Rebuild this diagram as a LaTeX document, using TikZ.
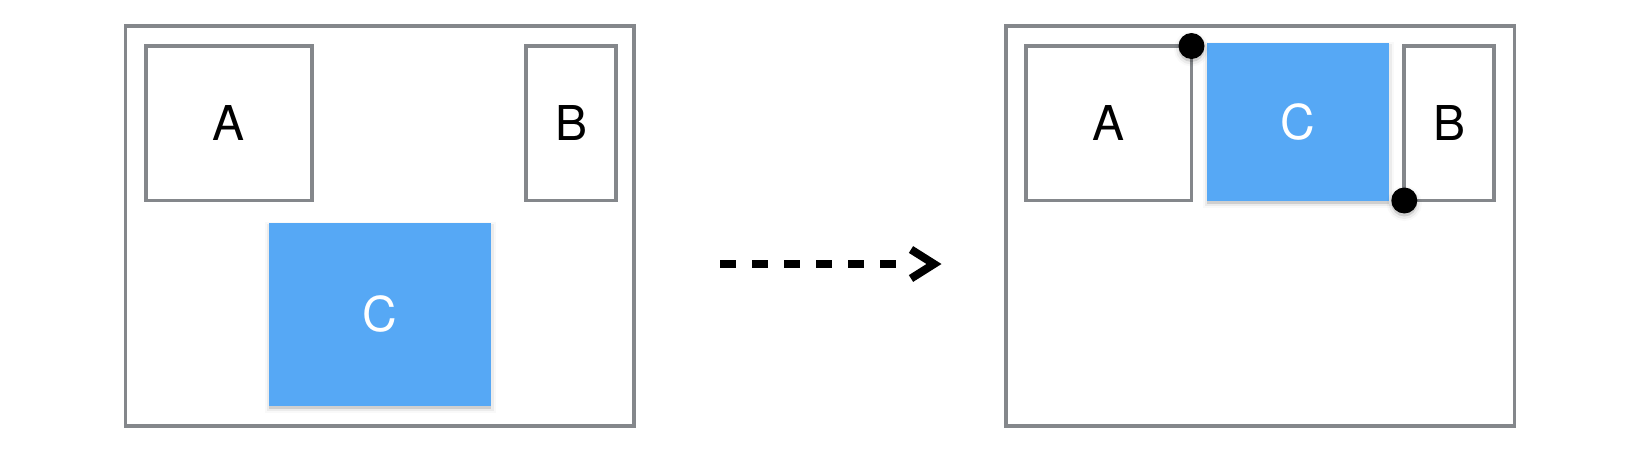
\documentclass[tikz,border=0pt]{standalone}
\usepackage{fontspec}
\setmainfont{TeX Gyre Heros}
\usetikzlibrary{shadows,calc}
\definecolor{framegray}{RGB}{132,135,139}
\definecolor{cblue}{RGB}{86,168,245}
\tikzset{
  softshadow/.style={
    general shadow={shadow yshift=-3pt,draw=black,line width=9pt,opacity=0.025},
    general shadow={shadow yshift=-3pt,draw=black,line width=5pt,opacity=0.05},
    general shadow={shadow yshift=-3pt,fill=black,opacity=0.12}},
  frame/.style={draw=framegray,line width=3.7pt,inner sep=0pt,outer sep=0pt,
    minimum width=508.5pt,minimum height=399.7pt},
  item/.style={draw=framegray,line width=3.7pt,inner sep=0pt,outer sep=0pt,
    font=\fontsize{48}{52}\selectfont,text=black,minimum height=154.5pt},
  movebox/.style={fill=cblue,inner sep=0pt,outer sep=0pt,
    font=\fontsize{48}{52}\selectfont,text=white,softshadow},
  pin/.style={circle,fill=black,minimum size=26pt,inner sep=0pt,outer sep=0pt,softshadow},
  dashline/.style={line width=8pt,dash pattern=on 16pt off 16pt},
  chevron/.style={line width=8pt,line join=miter,line cap=butt}
}
\begin{document}
\begin{tikzpicture}[x=1pt,y=-1pt]
\useasboundingbox (0,0) rectangle (1650,448);
% left panel
\node[frame] (F1) at (379.75,225.85) {};
\node[item,minimum width=166pt] (A1) at (229,123.25) {A};
\node[item,minimum width=90.3pt] (B1) at (571.15,123.25) {B};
\node[movebox,minimum width=222.3pt,minimum height=182.7pt] (C1) at (380.15,314.35) {C};
% right panel
\node[frame] (F2) at (1260.25,225.85) {};
\node[item,minimum width=165.5pt] (A2) at (1108.75,123.25) {A};
\node[item,minimum width=90pt] (B2) at (1449.3,123.25) {B};
\node[movebox,minimum width=182pt,minimum height=157.4pt] (C2) at (1298,122) {C};
\node[pin] (P1) at (A2.north east) {};
\node[pin] (P2) at (B2.south west) {};
% arrow
\coordinate (arrS) at (720,264);
\coordinate (arrE) at (942,264);
\draw[dashline] (arrS) -- ($(arrE)+(-46,0)$);
\draw[chevron] ($(arrE)+(-31,-14.5)$) -- ($(arrE)+(-8,0)$) -- ($(arrE)+(-31,14.5)$);
\end{tikzpicture}
\end{document}
